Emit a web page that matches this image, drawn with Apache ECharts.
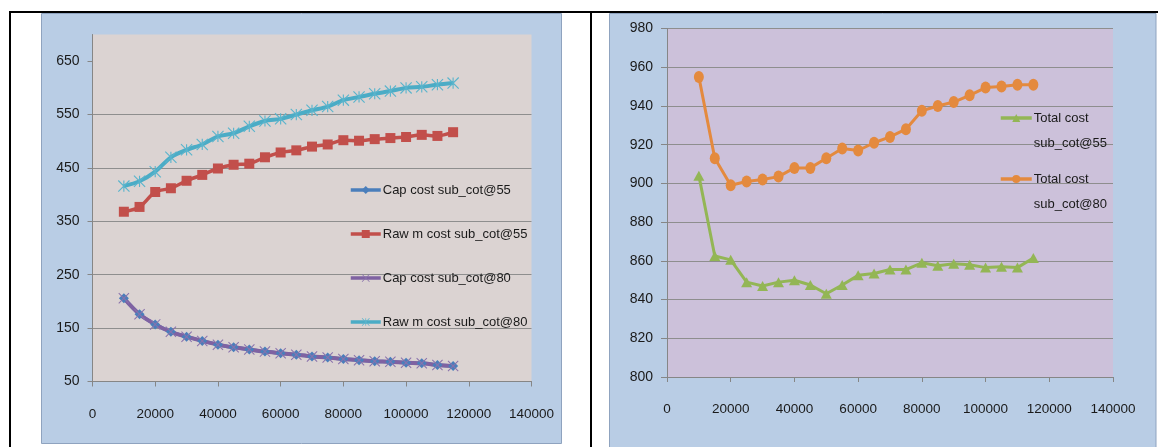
<!DOCTYPE html>
<html>
<head>
<meta charset="utf-8">
<script src="https://cdn.jsdelivr.net/npm/echarts@6/dist/echarts.min.js"></script>
<style>
html,body{margin:0;padding:0;background:#fff;}
#c{width:1158px;height:447px;}
</style>
</head>
<body>
<div id="c"></div>
<script>
// ---- data ----
const xValues = [10000, 15000, 20000, 25000, 30000, 35000, 40000, 45000, 50000, 55000, 60000,
                 65000, 70000, 75000, 80000, 85000, 90000, 95000, 100000, 105000, 110000, 115000];
const capCost55 = [206, 176, 157, 143, 134, 126, 119, 114, 110, 106, 103, 100, 97, 95, 92, 90, 88, 87, 85, 84, 81, 79];
const rawCost55 = [368, 377, 405, 412, 426, 437, 449, 456, 458, 470, 479, 483, 490, 494, 502, 501, 504, 506, 508, 512, 510, 517];
const capCost80 = [206, 176, 157, 143, 134, 126, 119, 114, 110, 106, 103, 100, 97, 95, 92, 90, 88, 87, 85, 84, 81, 79];
const rawCost80 = [416, 425, 443, 470, 484, 494, 509, 515, 528, 538, 542, 550, 558, 565, 577, 583, 589, 594, 600, 602, 606, 609];
const total55 = [904, 862.5, 860.5, 849, 847, 849, 850, 847.5, 843, 847.5, 852.5, 853.5, 855.5, 855.5, 859, 857.5, 858.5, 858, 856.5, 857, 856.5, 861.5];
const total80 = [955, 913, 899, 901, 902, 903.5, 908, 908, 913, 918, 917, 921, 924, 928, 937.5, 940, 942, 945.5, 949.5, 950, 951, 951];

const leftNames = ['Cap cost sub_cot@55', 'Raw m cost sub_cot@55', 'Cap cost sub_cot@80', 'Raw m cost sub_cot@80'];
const rightNames = ['Total cost sub_cot@55', 'Total cost sub_cot@80'];
const leftYTicks = [50, 150, 250, 350, 450, 550, 650];
const rightYTicks = [800, 820, 840, 860, 880, 900, 920, 940, 960, 980];
const xTicks = [0, 20000, 40000, 60000, 80000, 100000, 120000, 140000];

// ---- helpers ----
const pair = arr => xValues.map((x, i) => [x, arr[i]]);
const FONT = '"Liberation Sans", Arial, sans-serif';
const AX = '#868686';
const GRIDC = '#8e8e8e';
const TXT = '#1a1a1a';

const barV = 'M-1,-10L1,-10L1,10L-1,10Z';
const barD1 = 'M-9.29,-10.71L10.71,9.29L9.29,10.71L-10.71,-9.29Z';
const barD2 = 'M9.29,-10.71L10.71,-9.29L-9.29,10.71L-10.71,9.29Z';
const xSymbol = 'path://' + barD1 + barD2;
const starSymbol = 'path://' + barV + barD1 + barD2;
const ellipseSymbol = 'path://M0,-10A10,10,0,1,1,0,10A10,10,0,1,1,0,-10Z';

function xAxis(gridIndex) {
  return {
    type: 'value', gridIndex, min: xTicks[0], max: xTicks[xTicks.length - 1], interval: 20000,
    axisLine: { show: true, lineStyle: { color: AX, width: 1 } },
    axisTick: { show: true, inside: false, length: 5, lineStyle: { color: AX } },
    axisLabel: { color: TXT, fontFamily: FONT, fontSize: 13.5, margin: 25.5,
      formatter: v => xTicks.includes(v) ? String(v) : '' },
    splitLine: { show: false }
  };
}

const option = {
  backgroundColor: '#ffffff',
  animation: false,
  textStyle: { fontFamily: FONT },
  graphic: [
    { type: 'rect', z: -20, shape: { x: 41.5, y: 13.5, width: 520, height: 430 },
      style: { fill: '#b9cde5', stroke: '#8fa3bf', lineWidth: 1 } },
    { type: 'rect', z: -20, shape: { x: 609.5, y: 13.5, width: 546.5, height: 440 },
      style: { fill: '#b9cde5', stroke: '#8fa3bf', lineWidth: 1 } },
    { type: 'rect', z: -10, shape: { x: 9, y: 11, width: 1149, height: 2 }, style: { fill: '#000' } },
    { type: 'rect', z: -10, shape: { x: 9, y: 11, width: 2, height: 440 }, style: { fill: '#000' } },
    { type: 'rect', z: -10, shape: { x: 590, y: 11, width: 2, height: 440 }, style: { fill: '#000' } }
  ],
  grid: [
    { left: 92.5, top: 34.5, width: 439, height: 347, show: true, backgroundColor: '#dbd3d2', borderWidth: 0 },
    { left: 667, top: 28.5, width: 446, height: 348.5, show: true, backgroundColor: '#ccc1da', borderWidth: 0 }
  ],
  xAxis: [xAxis(0), xAxis(1)],
  yAxis: [
    {
      type: 'value', gridIndex: 0, min: 50, max: 700, interval: 100,
      axisLine: { show: true, lineStyle: { color: AX } },
      axisTick: { show: true, inside: false, length: 5, lineStyle: { color: AX }, customValues: leftYTicks },
      axisLabel: { color: TXT, fontFamily: FONT, fontSize: 14, margin: 13,
        formatter: v => leftYTicks.includes(v) ? String(v) : '' },
      splitLine: { show: true, showMaxLine: false, lineStyle: { color: GRIDC, width: 1 } }
    },
    {
      type: 'value', gridIndex: 1, min: 800, max: 980, interval: 20,
      axisLine: { show: true, lineStyle: { color: AX } },
      axisTick: { show: true, inside: false, length: 6, lineStyle: { color: AX } },
      axisLabel: { color: TXT, fontFamily: FONT, fontSize: 14, margin: 14,
        formatter: v => rightYTicks.includes(v) ? String(v) : '' },
      splitLine: { show: true, lineStyle: { color: GRIDC, width: 1 } }
    }
  ],
  legend: [
    {
      data: leftNames, orient: 'vertical', left: 349, top: 182, padding: 0,
      itemWidth: 30, itemHeight: 10, itemGap: 28,
      lineStyle: { width: 3.5 },
      textStyle: { color: TXT, fontFamily: FONT, fontSize: 13, lineHeight: 16, padding: [0, 0, 0, -3] }
    },
    {
      data: rightNames, orient: 'vertical', left: 999, top: 80.5, padding: 0,
      itemWidth: 31, itemHeight: 10, itemGap: -14,
      lineStyle: { width: 3.5 },
      formatter: n => '\n' + n.replace(' sub', '\nsub'),
      textStyle: { color: TXT, fontFamily: FONT, fontSize: 13, lineHeight: 25, padding: [0, 0, 0, -3] }
    }
  ],
  series: [
    { name: leftNames[0], type: 'line', xAxisIndex: 0, yAxisIndex: 0, data: pair(capCost55),
      smooth: 0.3, symbol: 'diamond', symbolSize: 10,
      lineStyle: { color: '#4a7ebb', width: 3.5 }, itemStyle: { color: '#4a7ebb' } },
    { name: leftNames[1], type: 'line', xAxisIndex: 0, yAxisIndex: 0, data: pair(rawCost55),
      smooth: 0.3, symbol: 'rect', symbolSize: 10,
      lineStyle: { color: '#c24f4b', width: 3.5 }, itemStyle: { color: '#c24f4b' } },
    { name: leftNames[2], type: 'line', xAxisIndex: 0, yAxisIndex: 0, data: pair(capCost80),
      smooth: 0.3, symbol: xSymbol, symbolSize: 11,
      lineStyle: { color: '#7f62a2', width: 4 }, itemStyle: { color: '#8a72ac' } },
    { name: leftNames[3], type: 'line', xAxisIndex: 0, yAxisIndex: 0, data: pair(rawCost80),
      smooth: 0.3, symbol: starSymbol, symbolSize: 12,
      lineStyle: { color: '#4bacc6', width: 4 }, itemStyle: { color: '#5ab4cc' } },
    { name: rightNames[0], type: 'line', xAxisIndex: 1, yAxisIndex: 1, data: pair(total55),
      symbol: 'triangle', symbolSize: [11, 10],
      lineStyle: { color: '#93b655', width: 3 }, itemStyle: { color: '#93b655' } },
    { name: rightNames[1], type: 'line', xAxisIndex: 1, yAxisIndex: 1, data: pair(total80),
      symbol: ellipseSymbol, symbolSize: [10, 12],
      lineStyle: { color: '#e48a3e', width: 3 }, itemStyle: { color: '#e48a3e' } }
  ]
};

const chart = echarts.init(document.getElementById('c'), null, { renderer: 'canvas' });
chart.setOption(option);
</script>
</body>
</html>
